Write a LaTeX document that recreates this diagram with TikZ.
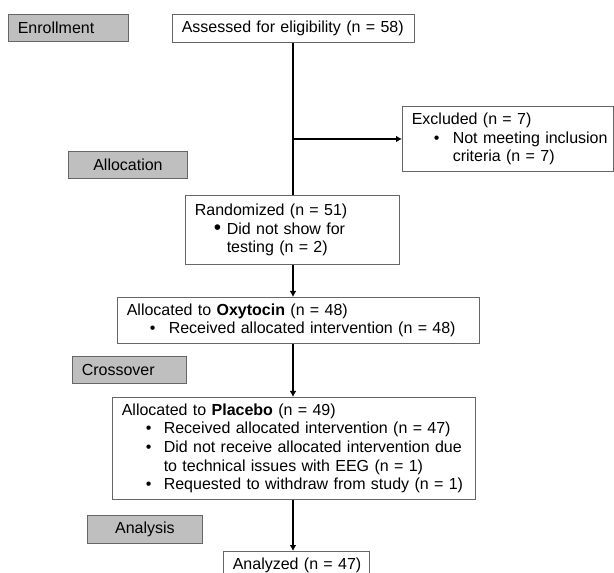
\documentclass[tikz,border=0pt]{standalone}
\usepackage{fontspec}
\setmainfont{Liberation Sans}
\usetikzlibrary{arrows.meta}

\newcommand{\bul}[4][\textbullet]{\mbox{\hspace*{#2}\makebox[#3][l]{#1}#4}}

\begin{document}
\begin{tikzpicture}[
    x=0.75pt, y=-0.75pt,
    box/.style={draw=black!60, line width=0.7pt, rectangle, anchor=north west, inner xsep=7pt, inner ysep=0pt, align=left, font=\fontsize{12pt}{14pt}\selectfont},
    stage/.style={box, fill=black!25},
    arrow/.style={-{Latex[length=4.5pt, width=5pt]}, line width=1.2pt},
    link/.style={line width=1.2pt}
]
    \useasboundingbox (0,0) rectangle (614,573);

    % stage labels
    \node[stage, text width=76pt, minimum height=20.25pt] (enroll) at (8,14) {Enrollment};
    \node[stage, text width=75.25pt, minimum height=20.25pt, align=center] (alloc) at (68,151) {Allocation};
    \node[stage, text width=71.5pt, minimum height=20.25pt] (cross) at (72,356) {Crossover};
    \node[stage, text width=72.25pt, minimum height=21pt, align=center] (analysis) at (87,515) {Analysis};

    % flow boxes
    \node[box, text width=167.5pt, minimum height=21pt] (assess) at (172,14) {\mbox{Assessed for eligibility (n = 58)}};
    \node[box, text width=144.25pt, minimum height=48.75pt] (excl) at (402,106) {Excluded (n = 7)\\
        \bul{16.5pt}{14.25pt}{Not meeting inclusion}\\
        \bul[]{30.75pt}{0pt}{criteria (n = 7)}};
    \node[box, text width=146.5pt, minimum height=51.75pt] (rand) at (185,195) {Randomized (n = 51)\\
        \bul[\scalebox{1.3}{\textbullet}]{14.25pt}{9.75pt}{Did not show for}\\
        \bul[]{24pt}{0pt}{testing (n = 2)}};
    \node[box, text width=257.5pt, minimum height=34.5pt] (oxy) at (117,297) {Allocated to \textbf{Oxytocin} (n = 48)\\
        \bul{17.25pt}{14.25pt}{Received allocated intervention (n = 48)}};
    \node[box, text width=258.25pt, minimum height=76.5pt] (plac) at (112,397) {Allocated to \textbf{Placebo} (n = 49)\\
        \bul{18pt}{13.5pt}{Received allocated intervention (n = 47)}\\
        \bul{18pt}{13.5pt}{Did not receive allocated intervention due}\\
        \bul[]{31.5pt}{0pt}{to technical issues with EEG (n = 1)}\\
        \bul{18pt}{13.5pt}{Requested to withdraw from study (n = 1)}};
    \node[box, text width=95.5pt, minimum height=21pt] (analyzed) at (223,551) {\mbox{Analyzed (n = 47)}};

    \coordinate (spine) at (293,0);

    \draw[link] (spine |- assess.south) -- (spine |- rand.north);
    \draw[arrow] (spine |- excl.west) -- (excl.west);
    \draw[arrow] (spine |- rand.south) -- (spine |- oxy.north);
    \draw[arrow] (spine |- oxy.south) -- (spine |- plac.north);
    \draw[arrow] (spine |- plac.south) -- (spine |- analyzed.north);
\end{tikzpicture}
\end{document}
